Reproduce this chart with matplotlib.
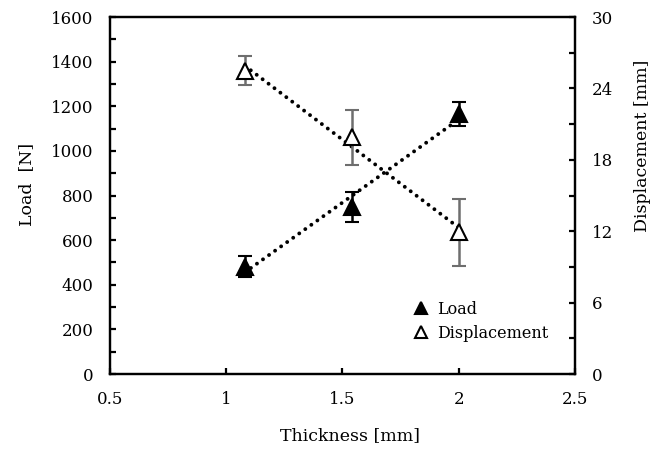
import matplotlib.pyplot as plt
import numpy as np
from matplotlib.ticker import MultipleLocator

plt.rcParams["font.family"] = ["DejaVu Serif"]

# Thickness [mm] of the tested specimens
thickness = [1.08, 1.54, 2.0]

# Peak load [N] and its standard deviation
load = [481, 748, 1166]
load_err = [48, 66, 55]

# Displacement at peak [mm] and its standard deviation
disp = [25.5, 19.9, 11.9]
disp_err = [1.2, 2.3, 2.8]

fig = plt.figure(figsize=(6.61, 4.51), dpi=100)
ax = fig.add_axes([0.1664, 0.1707, 0.7035, 0.7916])
ax2 = ax.twinx()

tri = dict(marker="^", markersize=11, markeredgecolor="black", markeredgewidth=1.5, linestyle="none")

# linear trend lines
xs = np.array([min(thickness), max(thickness)])
pl = np.polyfit(thickness, load, 1)
pd_ = np.polyfit(thickness, disp, 1)
dots = dict(color="black", linewidth=2.8, linestyle=(0, (0.01, 1.9)),
            dash_capstyle="round", zorder=2)
ax.plot(xs, np.polyval(pl, xs), **dots)
ax2.plot(xs, np.polyval(pd_, xs), **dots)

ax.errorbar(thickness, load, yerr=load_err, ecolor="black", elinewidth=1.8,
            capsize=5, capthick=1.8, markerfacecolor="black", zorder=3, **tri)
ax2.errorbar(thickness, disp, yerr=disp_err, ecolor="#6e6e6e", elinewidth=1.8,
             capsize=5, capthick=1.8, markerfacecolor="white", zorder=3, **tri)

ax.set_xlim(0.5, 2.5)
ax.set_ylim(0, 1600)
ax2.set_ylim(0, 30)
ax.set_xticks([0.5, 1, 1.5, 2, 2.5])
ax.set_xticklabels(["0.5", "1", "1.5", "2", "2.5"])
ax.yaxis.set_major_locator(MultipleLocator(200))
ax.yaxis.set_minor_locator(MultipleLocator(100))
ax2.yaxis.set_major_locator(MultipleLocator(6))
ax2.yaxis.set_minor_locator(MultipleLocator(3))

for a in (ax, ax2):
    for s in a.spines.values():
        s.set_linewidth(1.6)
    a.tick_params(which="both", direction="in", length=4, width=1.6,
                  labelsize=12, pad=12)
ax.tick_params(axis="x", top=False)
ax.tick_params(axis="y", right=False)

ax.set_xlabel("Thickness [mm]", fontsize=12.5)
ax.set_ylabel("Load  [N]", fontsize=12.5)
ax2.set_ylabel("Displacement [mm]", fontsize=12.5)
ax.xaxis.set_label_coords(0.516, -0.15)
ax.yaxis.set_label_coords(-0.16, 0.53)
ax2.yaxis.set_label_coords(1.127, 0.64)

h1 = ax.plot([], [], markerfacecolor="black", label="Load", **tri)[0]
h2 = ax.plot([], [], markerfacecolor="white", label="Displacement", **tri)[0]
for h in (h1, h2):
    h.set_markersize(9)
ax.legend(handles=[h1, h2], loc="lower left", bbox_to_anchor=(0.62, 0.05),
          frameon=False, fontsize=11.5, handlelength=1.0, handletextpad=0.5,
          labelspacing=0.45)

fig.savefig("out.png", dpi=100)
